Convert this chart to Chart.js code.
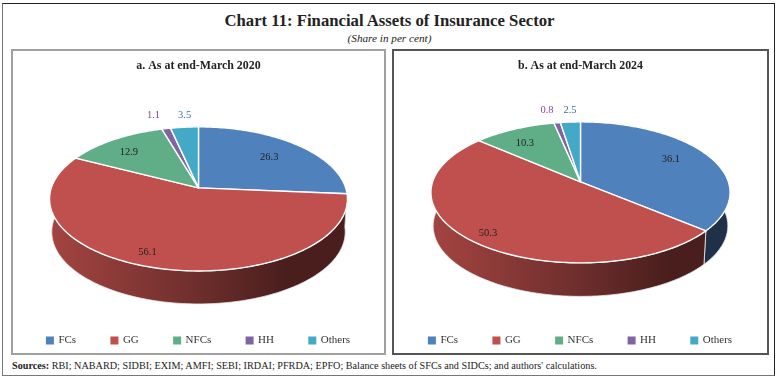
<!DOCTYPE html>
<html>
<head>
<meta charset="utf-8">
<script src="https://cdn.jsdelivr.net/npm/chart.js@4/dist/chart.umd.min.js"></script>
<style>
    body { margin: 0; background: #fff; font-family: "Liberation Serif", serif; color: #222; }
    #frame { position: absolute; left: 2px; top: 3px; width: 771px; height: 371px; border: 1.5px solid #222; border-left-color: #777; border-bottom-color: #777; }
    .panel { position: absolute; top: 49px; height: 302px; border: 2px solid #a0a0a0; }
    #panelA { left: 11px; width: 371px; }
    #panelB { left: 392px; width: 373px; border-color: #555; }
    .head { position: absolute; left: 0; width: 779px; text-align: center; white-space: nowrap; }
    #heading { top: 11px; font-size: 16.7px; font-weight: bold; line-height: 20px; }
    #sub { top: 32px; font-size: 11.2px; font-style: italic; line-height: 12px; }
    #source { position: absolute; left: 12px; top: 359px; font-size: 10.2px; line-height: 14px; white-space: nowrap; }
    canvas { display: block; position: absolute; left: -14px; top: 0; }
</style>
</head>
<body>
<div id="frame"></div>
<div class="head" id="heading">Chart 11: Financial Assets of Insurance Sector</div>
<div class="head" id="sub">(Share in per cent)</div>
<div class="panel" id="panelA"><canvas id="chartA" width="399" height="305"></canvas></div>
<div class="panel" id="panelB"><canvas id="chartB" width="401" height="305"></canvas></div>
<div id="source"><b>Sources:</b> RBI; NABARD; SIDBI; EXIM; AMFI; SEBI; IRDAI; PFRDA; EPFO; Balance sheets of SFCs and SIDCs; and authors' calculations.</div>

<script>
var categories = ['FCs', 'GG', 'NFCs', 'HH', 'Others'];
var share2020 = [26.3, 56.1, 12.9, 1.1, 3.5];
var share2024 = [36.1, 50.3, 10.3, 0.8, 2.5];

var sliceColors = ['#4f81bd', '#c0504d', '#5fae88', '#8064a2', '#43a9c6'];
var labelColors = ['#222', '#222', '#222', '#8e44a0', '#3f6fa8'];

// where each value label sits: share of the radius, and degrees away from the slice middle
var labelReach2020 = [0.70, 0.855, 0.745, 1.287, 1.24];
var labelTurn2020 = [0, 5, -3.6, -1.8, 1.1];
var labelReach2024 = [0.733, 0.873, 0.742, 1.266, 1.24];
var labelTurn2024 = [-3.6, -0.3, -3.2, -1.8, 0.6];

var fontName = '"Liberation Serif", serif';

function shade(hex, f) {
    var n = parseInt(hex.slice(1), 16);
    return 'rgb(' + Math.round((n >> 16) * f) + ',' + Math.round(((n >> 8) & 255) * f) + ',' + Math.round((n & 255) * f) + ')';
}

// tilted disc seen in perspective: far side squeezed, near side stretched
function project(s, arc, angle, reach, down, narrow) {
    var u = Math.cos(angle) * reach;
    var v = Math.sin(angle) * reach;
    var d = 1 - s.persp * v;
    return {
        x: arc.x + arc.outerRadius * narrow * u / d,
        y: arc.y + s.lift + arc.outerRadius * s.tilt * v / d + down
    };
}

function traceRim(ctx, s, arc, a0, a1, down, narrow) {
    var steps = Math.max(2, Math.ceil(Math.abs(a1 - a0) / 0.02));
    for (var i = 0; i <= steps; i++) {
        var p = project(s, arc, a0 + (a1 - a0) * i / steps, 1, down, narrow);
        ctx.lineTo(p.x, p.y);
    }
}

var pie3d = {
    id: 'pie3d',
    beforeDatasetsDraw: function (chart, args, s) {
        var ctx = chart.ctx;
        var arcs = chart.getDatasetMeta(0).data;
        ctx.save();
        ctx.lineJoin = 'round';

        // side wall
        arcs.forEach(function (arc, i) {
            var base = sliceColors[i];
            var left = arc.x - arc.outerRadius;
            var g = ctx.createLinearGradient(left, 0, arc.x + arc.outerRadius, 0);
            g.addColorStop(0, shade(base, 0.85));
            g.addColorStop(0.5, shade(base, 0.57));
            g.addColorStop(0.8, shade(base, 0.38));
            g.addColorStop(1, shade(base, 0.38));
            ctx.beginPath();
            traceRim(ctx, s, arc, arc.startAngle, arc.endAngle, 0, 1);
            traceRim(ctx, s, arc, arc.endAngle, arc.startAngle, s.depth, s.wallNarrow);
            ctx.closePath();
            ctx.fillStyle = g;
            ctx.fill();
            ctx.strokeStyle = 'rgba(235,235,235,0.8)';
            ctx.lineWidth = 1;
            ctx.stroke();
        });

        // top face
        arcs.forEach(function (arc, i) {
            var c = project(s, arc, 0, 0, 0, 1);
            ctx.beginPath();
            ctx.moveTo(c.x, c.y);
            traceRim(ctx, s, arc, arc.startAngle, arc.endAngle, 0, 1);
            ctx.closePath();
            ctx.fillStyle = sliceColors[i];
            ctx.fill();
            ctx.strokeStyle = '#fff';
            ctx.lineWidth = 1.4;
            ctx.stroke();
        });

        // value labels
        ctx.font = '10.5px ' + fontName;
        ctx.textAlign = 'center';
        ctx.textBaseline = 'middle';
        arcs.forEach(function (arc, i) {
            var mid = (arc.startAngle + arc.endAngle) / 2 + s.turn[i] * Math.PI / 180;
            var p = project(s, arc, mid, s.reach[i], 0, 1);
            ctx.fillStyle = labelColors[i];
            ctx.fillText(chart.data.datasets[0].data[i].toFixed(1), p.x, p.y);
        });

        ctx.restore();
        return false;
    }
};

function drawPie(canvasId, title, values, shape) {
    return new Chart(document.getElementById(canvasId), {
        type: 'pie',
        data: {
            labels: categories,
            datasets: [{
                data: values,
                backgroundColor: sliceColors,
                borderWidth: 0,
                radius: shape.radius
            }]
        },
        options: {
            responsive: false,
            animation: false,
            layout: { padding: 0 },
            plugins: {
                tooltip: { enabled: false },
                title: {
                    display: true,
                    text: title,
                    color: '#222',
                    padding: { top: 8, bottom: 8 },
                    font: { family: fontName, size: 11.9, weight: 'bold' }
                },
                legend: {
                    position: 'bottom',
                    labels: {
                        usePointStyle: true,
                        pointStyle: 'rect',
                        boxWidth: 6,
                        boxHeight: 8,
                        padding: 35.3,
                        color: '#333',
                        font: { family: fontName, size: 11 }
                    }
                },
                pie3d: shape
            }
        },
        plugins: [pie3d]
    });
}

drawPie('chartA', 'a. As at end-March 2020', share2020, {
    radius: 147.2, tilt: 0.478, persp: 0.153, lift: -2.6, depth: 33, wallNarrow: 0.985,
    reach: labelReach2020, turn: labelTurn2020
});
drawPie('chartB', 'b. As at end-March 2024', share2024, {
    radius: 147.9, tilt: 0.466, persp: 0.149, lift: -8.6, depth: 33.5, wallNarrow: 0.985,
    reach: labelReach2024, turn: labelTurn2024
});
</script>
</body>
</html>
